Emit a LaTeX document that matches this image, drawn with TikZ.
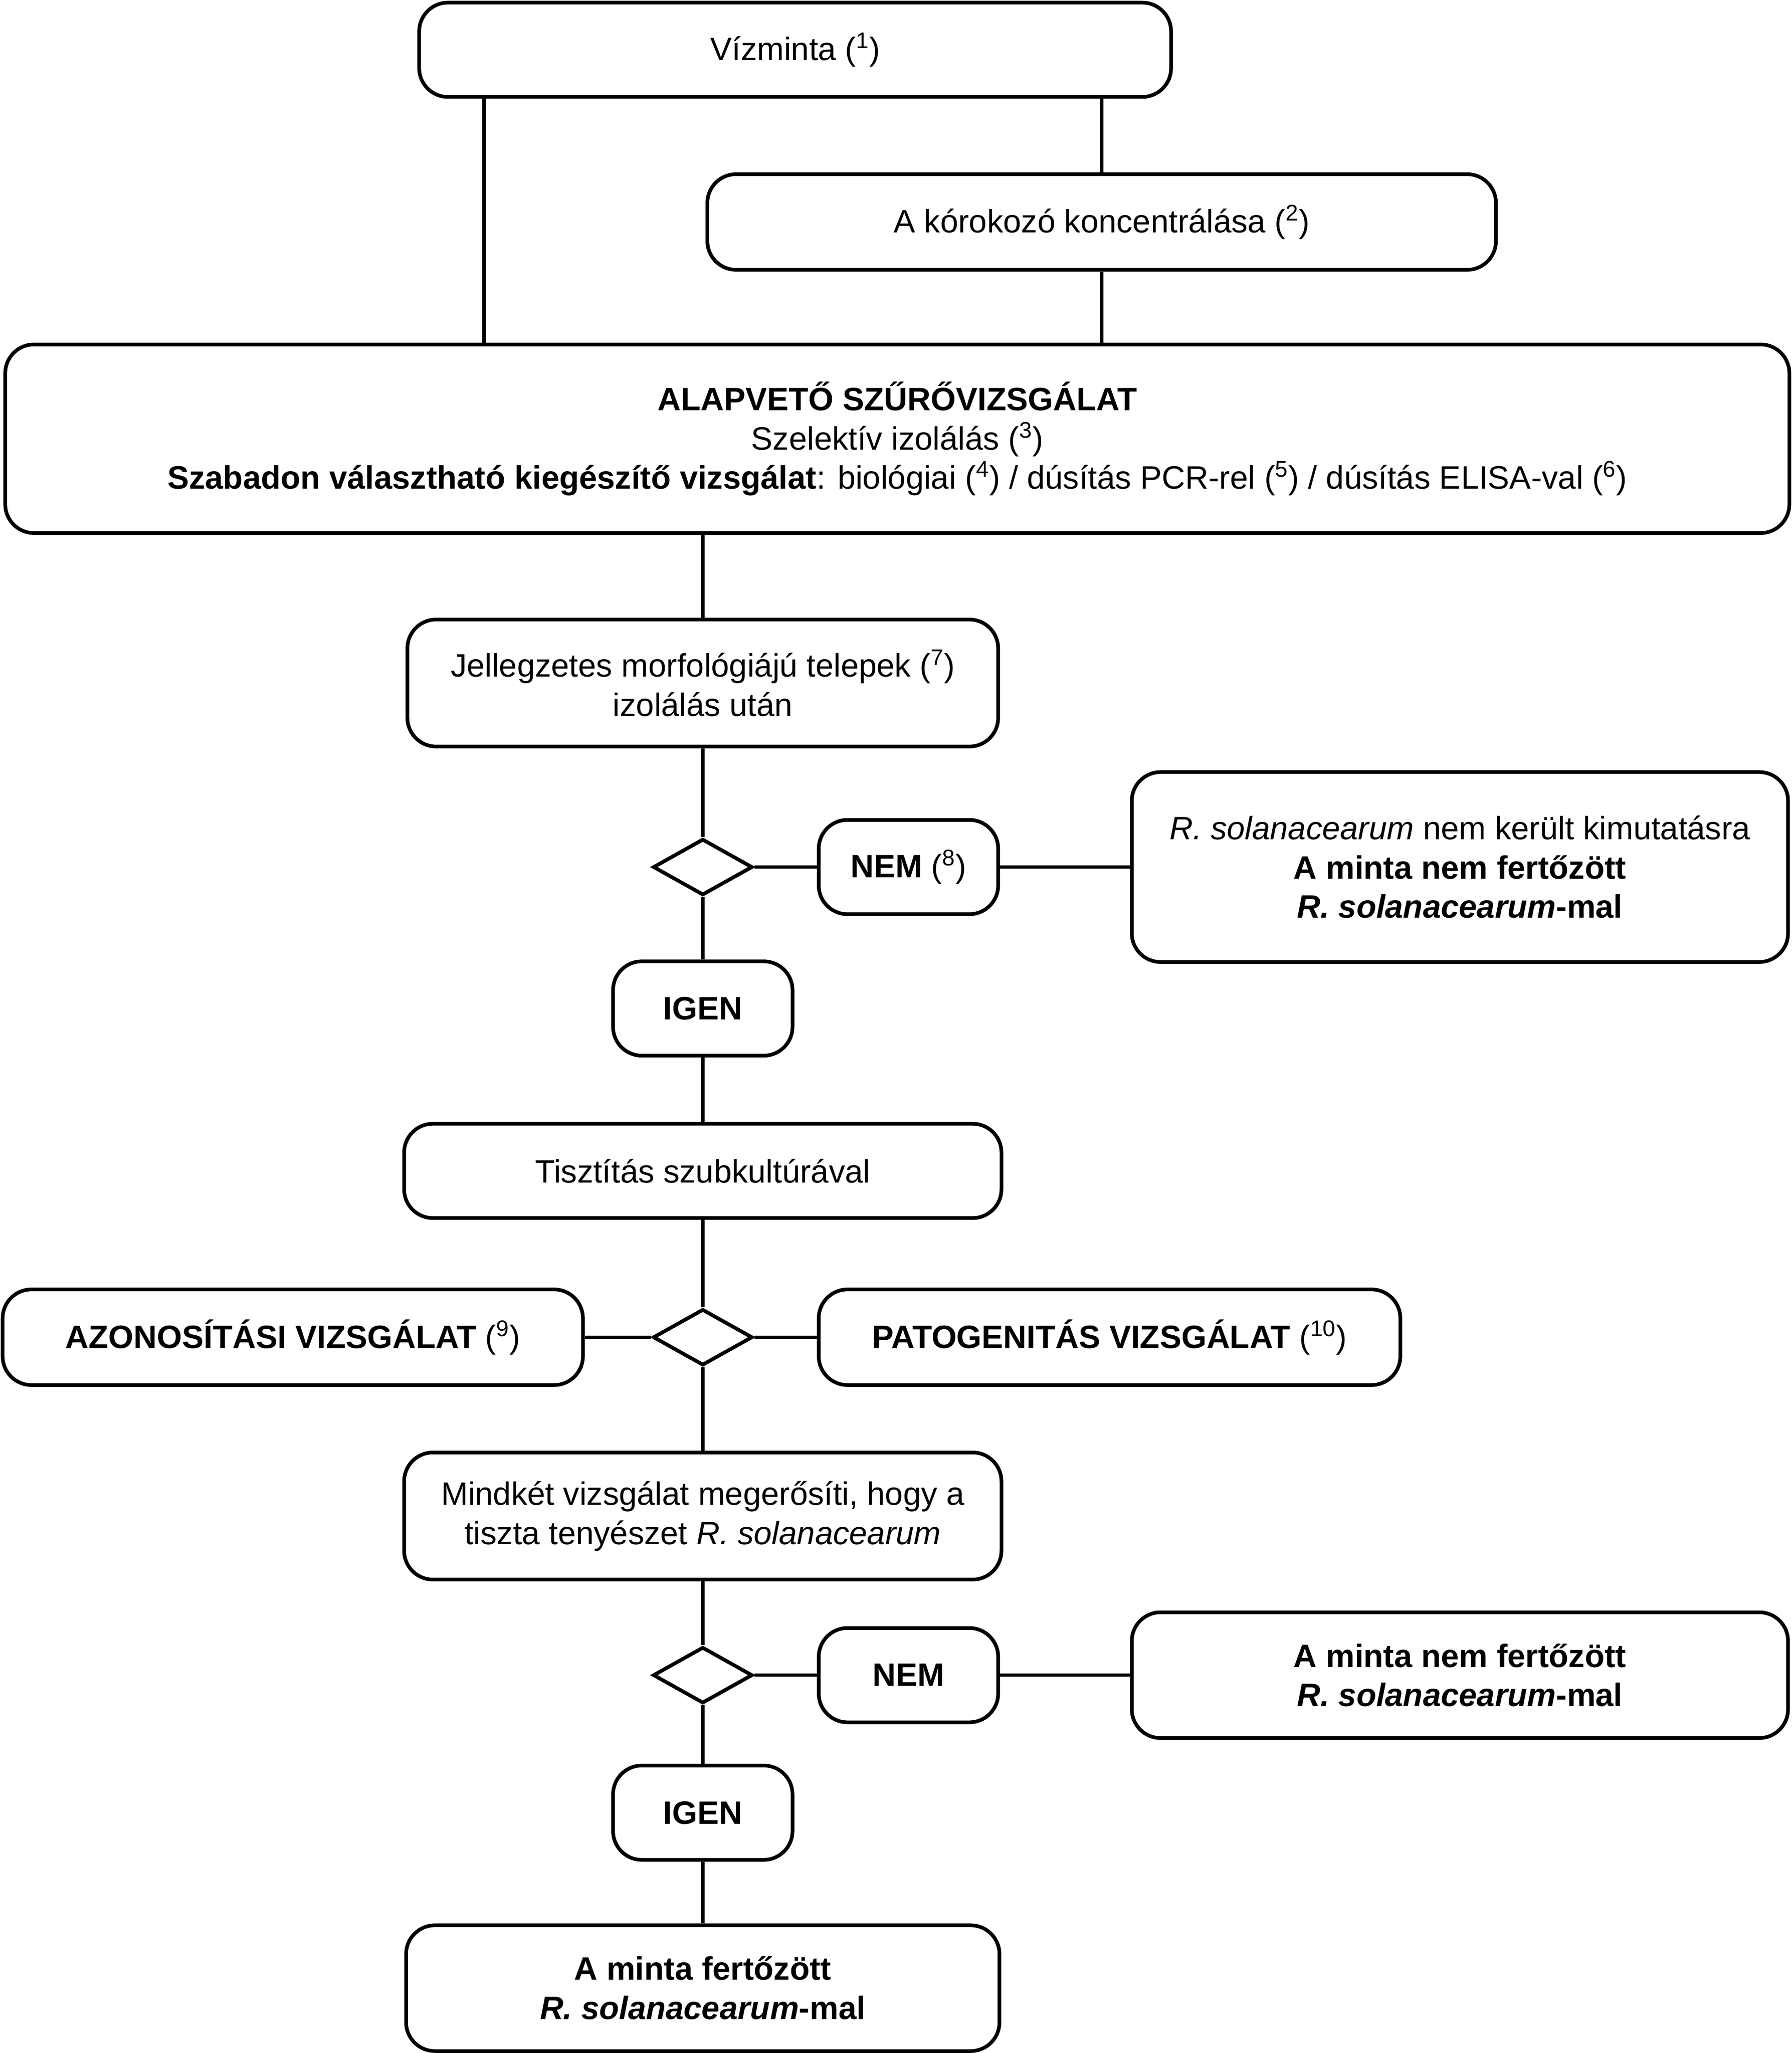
\documentclass[tikz,border=0pt]{standalone}
\usepackage{fontspec}
\setmainfont{Liberation Sans}
\usetikzlibrary{shapes.geometric}
\begin{document}
\begin{tikzpicture}[x=1pt,y=1pt,
  box/.style={draw, line width=2.8pt, rounded corners=22pt, align=center,
    inner sep=0pt, font=\fontsize{24.7}{30}\selectfont},
  dec/.style={draw, diamond, line width=2.8pt, inner sep=0pt,
    minimum width=76pt, minimum height=43pt},
  conn/.style={line width=2.6pt}]
\useasboundingbox (0,0) rectangle (1368,-1567.5);

\node[box, minimum width=574pt, minimum height=72pt] (viz) at (607,-38) {Vízminta (\textsuperscript{1})};
\node[box, minimum width=602pt, minimum height=73pt] (konc) at (841,-169.5) {A kórokozó koncentrálása (\textsuperscript{2})};
\node[box, minimum width=1362pt, minimum height=144pt] (alap) at (685,-335)
  {\textbf{ALAPVETŐ SZŰRŐVIZSGÁLAT}\\Szelektív izolálás (\textsuperscript{3})\\
   \textbf{Szabadon választható kiegészítő vizsgálat}: biológiai (\textsuperscript{4}) / dúsítás PCR-rel (\textsuperscript{5}) / dúsítás ELISA-val (\textsuperscript{6})};
\node[box, minimum width=451pt, minimum height=97pt] (jell) at (536.5,-521.5)
  {Jellegzetes morfológiájú telepek (\textsuperscript{7})\\izolálás után};
\node[dec] (d1) at (536.5,-662) {};
\node[box, minimum width=137pt, minimum height=72pt] (nem1) at (693.5,-662) {\textbf{NEM} (\textsuperscript{8})};
\node[box, minimum width=501pt, minimum height=145pt] (rsol1) at (1114.5,-662)
  {\textit{R. solanacearum} nem került kimutatásra\\\textbf{A minta nem fertőzött}\\\textbf{\textit{R. solanacearum}-mal}};
\node[box, minimum width=137pt, minimum height=72pt] (igen1) at (536.5,-770) {\textbf{IGEN}};
\node[box, minimum width=456pt, minimum height=72pt] (tiszt) at (536.5,-894) {Tisztítás szubkultúrával};
\node[dec] (d2) at (536.5,-1021) {};
\node[box, minimum width=443pt, minimum height=73pt] (azon) at (223.5,-1021) {\textbf{AZONOSÍTÁSI VIZSGÁLAT} (\textsuperscript{9})};
\node[box, minimum width=444pt, minimum height=73pt] (pato) at (847,-1021) {\textbf{PATOGENITÁS VIZSGÁLAT} (\textsuperscript{10})};
\node[box, minimum width=456pt, minimum height=97pt] (mind) at (536.5,-1157.5)
  {Mindkét vizsgálat megerősíti, hogy a\\tiszta tenyészet \textit{R. solanacearum}};
\node[dec] (d3) at (536.5,-1279) {};
\node[box, minimum width=137pt, minimum height=72pt] (nem2) at (693.5,-1279) {\textbf{NEM}};
\node[box, minimum width=501pt, minimum height=96pt] (rsol2) at (1114.5,-1279)
  {\textbf{A minta nem fertőzött}\\\textbf{\textit{R. solanacearum}-mal}};
\node[box, minimum width=137pt, minimum height=72pt] (igen2) at (536.5,-1384) {\textbf{IGEN}};
\node[box, minimum width=453pt, minimum height=96pt] (final) at (536.5,-1518)
  {\textbf{A minta fertőzött}\\\textbf{\textit{R. solanacearum}-mal}};

\draw[conn] ([xshift=51pt]viz.south west) -- ([xshift=51pt]viz.south west |- alap.north);
\draw[conn] (konc.north) -- (konc.north |- viz.south);
\draw[conn] (konc.south) -- (konc.south |- alap.north);
\draw[conn] (jell.north |- alap.south) -- (jell.north);
\draw[conn] (jell.south) -- (d1.north);
\draw[conn] (d1.east) -- (nem1.west);
\draw[conn] (nem1.east) -- (rsol1.west);
\draw[conn] (d1.south) -- (igen1.north);
\draw[conn] (igen1.south) -- (tiszt.north);
\draw[conn] (tiszt.south) -- (d2.north);
\draw[conn] (d2.west) -- (azon.east);
\draw[conn] (d2.east) -- (pato.west);
\draw[conn] (d2.south) -- (mind.north);
\draw[conn] (mind.south) -- (d3.north);
\draw[conn] (d3.east) -- (nem2.west);
\draw[conn] (nem2.east) -- (rsol2.west);
\draw[conn] (d3.south) -- (igen2.north);
\draw[conn] (igen2.south) -- (final.north);
\end{tikzpicture}
\end{document}
